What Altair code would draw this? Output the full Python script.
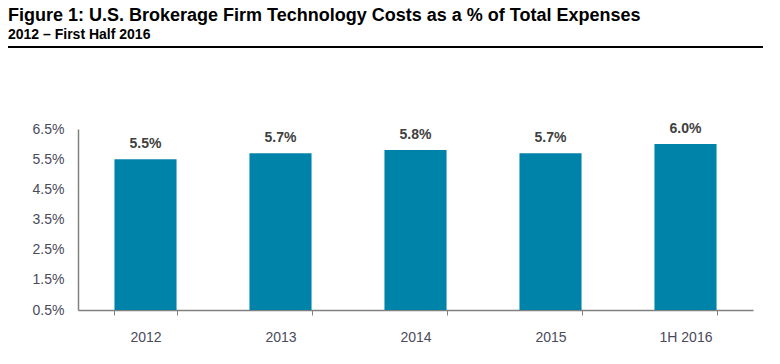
import altair as alt
import pandas as pd

categories = ["2012", "2013", "2014", "2015", "1H 2016"]
values = [5.5, 5.7, 5.8, 5.7, 6.0]
labels = ["5.5%", "5.7%", "5.8%", "5.7%", "6.0%"]
y_ticks = [0.5, 1.5, 2.5, 3.5, 4.5, 5.5, 6.5]
y_base = 0.5

df = pd.DataFrame({"cat": categories, "val": values, "label": labels, "base": y_base})

FONT = "Liberation Sans"
AXIS_COLOR = "#808080"
LABEL_COLOR = "#4a4a5a"

x_axis = alt.Axis(labelAngle=0, labelFont=FONT, labelFontSize=14,
                  labelColor=LABEL_COLOR, labelPadding=15,
                  domainColor=AXIS_COLOR, tickColor=AXIS_COLOR,
                  tickBand="extent", tickSize=5, domainWidth=1.5)
y_axis = alt.Axis(values=y_ticks, labelExpr="format(datum.value, '.1f') + '%'",
                  labelFont=FONT, labelFontSize=14, labelColor=LABEL_COLOR,
                  labelOverlap=False, labelBound=False,
                  grid=False, ticks=False, labelPadding=14,
                  domainColor=AXIS_COLOR, domainWidth=1.5)
x_scale = alt.Scale(paddingInner=0.54, paddingOuter=0.27)
y_scale = alt.Scale(domain=[0.5, 6.5], nice=False, zero=False)

x = alt.X("cat:N", sort=categories, title=None, scale=x_scale, axis=x_axis)
y = alt.Y("val:Q", title=None, scale=y_scale, axis=y_axis)

bars = alt.Chart(df).mark_bar(color="#0083A9").encode(x=x, y=y, y2="base:Q")

text = alt.Chart(df).mark_text(dy=-15, font=FONT, fontSize=14, fontWeight="bold",
                               color="#404040").encode(x=x, y=y, text="label:N")

rule = alt.Chart(df).mark_rule(color="black", strokeWidth=1.5).encode(
    x=alt.value(-72), x2=alt.value(688), y=alt.value(-82))

chart = alt.layer(bars, text, rule).properties(
    width=675, height=181,
    padding={"left": 70, "top": 121, "right": 10, "bottom": 40},
    autosize=alt.AutoSizeParams(type="none"),
    title=alt.TitleParams(
        text="Figure 1: U.S. Brokerage Firm Technology Costs as a % of Total Expenses",
        subtitle="2012 \u2013 First Half 2016",
        anchor="start", frame="group", dx=-70, offset=4,
        font=FONT, fontSize=18, fontWeight="bold", color="black",
        subtitleFont=FONT, subtitleFontSize=14, subtitleFontWeight="bold",
        subtitleColor="black", subtitlePadding=3),
).configure_view(stroke=None)

chart.save("out.html", embed_options={"renderer": "svg", "actions": False})
